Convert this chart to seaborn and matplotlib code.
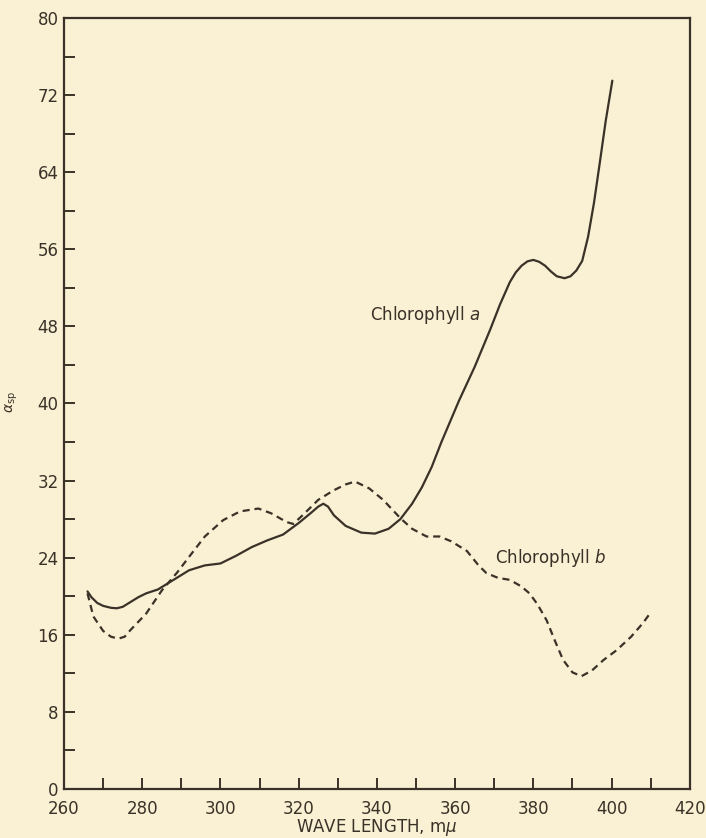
import numpy as np
import pandas as pd
import matplotlib
matplotlib.use("Agg")
import matplotlib.pyplot as plt
from matplotlib.ticker import MultipleLocator
import seaborn as sns

# wave length (m-mu) and specific absorption
wl_a = [266, 267, 268.5, 270, 272, 273.5, 275, 277, 279, 281, 284, 288, 292, 296,
        300, 304, 308, 312, 316, 320, 323, 325, 326.3, 327.5, 329, 332, 336,
        339.5, 343, 346, 349, 351.5, 354, 356.5, 361, 365, 369, 371.5, 374, 375.5,
        377, 378.5, 380, 381.5, 383, 384.5, 386, 388, 389.5, 391, 392.5, 394,
        395.5, 397, 398.5, 400.2]
chl_a = [20.5, 19.9, 19.3, 19.0, 18.8, 18.75, 18.9, 19.4, 19.9, 20.3, 20.7, 21.7,
         22.7, 23.2, 23.4, 24.2, 25.1, 25.8, 26.4, 27.6, 28.6, 29.3, 29.6, 29.3,
         28.4, 27.3, 26.6, 26.5, 27.0, 28.0, 29.6, 31.3, 33.4, 36.0, 40.3, 43.8,
         47.7, 50.3, 52.6, 53.6, 54.3, 54.75, 54.9, 54.7, 54.3, 53.7, 53.2, 53.0,
         53.2, 53.8, 54.8, 57.3, 60.8, 65.0, 69.3, 73.5]

wl_b = [266, 267.5, 270, 272, 273.9, 275.5, 277, 281, 285, 289, 292, 296, 300.7,
        305, 309.7, 313, 316.9, 318.6, 321, 325, 329, 332, 334.4, 338, 341.6, 346,
        349, 352.7, 356, 359, 363, 366, 368, 371, 374, 377, 379, 381, 383.4, 385.5,
        387.6, 390, 392.3, 395, 398, 401.3, 405, 408, 409.8]
chl_b = [20.3, 17.9, 16.4, 15.8, 15.6, 15.8, 16.5, 18.2, 20.6, 22.5, 24.1, 26.2,
         27.9, 28.8, 29.1, 28.6, 27.7, 27.5, 28.4, 30.0, 31.0, 31.6, 31.9, 31.2,
         30.0, 28.1, 27.0, 26.2, 26.2, 25.7, 24.7, 23.2, 22.4, 21.9, 21.7, 21.0,
         20.3, 19.2, 17.5, 15.4, 13.4, 12.1, 11.7, 12.3, 13.4, 14.4, 15.8, 17.2, 18.2]

bg = "#faf0d3"
ink = "#3a3228"

sns.set_style("ticks")
plt.rcParams["font.family"] = ["DejaVu Sans"]
plt.rcParams["mathtext.fontset"] = "dejavusans"

fig = plt.figure(figsize=(7.06, 8.38), dpi=100, facecolor=bg)
ax = fig.add_axes([0.0907, 0.0585, 0.8863, 0.92])
ax.set_facecolor(bg)

df_a = pd.DataFrame({"wl": wl_a, "val": chl_a})
df_b = pd.DataFrame({"wl": wl_b, "val": chl_b})
sns.lineplot(data=df_a, x="wl", y="val", ax=ax, color=ink, lw=1.6, sort=False)
sns.lineplot(data=df_b, x="wl", y="val", ax=ax, color=ink, lw=1.6, sort=False,
             dashes=False, linestyle=(0, (3.2, 2.2)))

ax.set_xlim(260, 420)
ax.set_ylim(0, 80)
ax.xaxis.set_major_locator(MultipleLocator(20))
ax.xaxis.set_minor_locator(MultipleLocator(10))
ax.yaxis.set_major_locator(MultipleLocator(8))
ax.yaxis.set_minor_locator(MultipleLocator(4))
ax.tick_params(which="both", direction="in", length=8, width=1.4, color=ink,
               labelcolor=ink, labelsize=12)
ax.tick_params(axis="x", pad=8)
ax.tick_params(axis="y", pad=4)

for s in ax.spines.values():
    s.set_color(ink)
    s.set_linewidth(1.6)

ax.set_xlabel(r"WAVE LENGTH, m$\mu$", fontsize=12, color=ink, labelpad=-1)
ax.set_ylabel("")
fig.text(12 / 706, 0.52, r"$\alpha_{\rm sp}$", fontsize=10, color=ink,
         rotation=90, ha="center", va="center")

ax.text(338.2, 49.2, "Chlorophyll $a$", fontsize=12, color=ink, va="center")
ax.text(370.2, 24.0, "Chlorophyll $b$", fontsize=12, color=ink, va="center")

fig.savefig("out.png", dpi=100, facecolor=bg)
